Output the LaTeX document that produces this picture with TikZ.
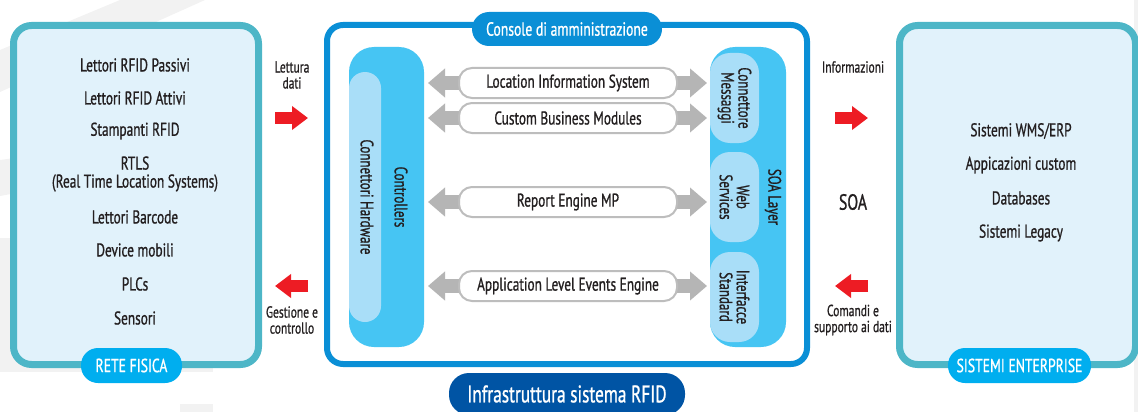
\documentclass[tikz,border=0pt]{standalone}
\usepackage{fontspec}
\setmainfont{PT Sans}[FakeStretch=0.72,FakeBold=0.9]
\usetikzlibrary{arrows.meta}
\definecolor{txt}{HTML}{231F20}
\definecolor{teal}{HTML}{4DB6C7}
\definecolor{lightfill}{HTML}{E1F2FB}
\definecolor{cyanpill}{HTML}{00AEEF}
\definecolor{midblue}{HTML}{0A8FD6}
\definecolor{darkblue}{HTML}{0054A4}
\definecolor{colfill}{HTML}{46C5F3}
\definecolor{innerfill}{HTML}{A9DEF8}
\definecolor{arrgray}{HTML}{B5B5B5}
\definecolor{labgray}{HTML}{BDBDBD}
\definecolor{redarr}{HTML}{ED1C24}
\definecolor{bggray}{HTML}{F2F2F2}
\begin{document}
\begin{tikzpicture}[x=1pt,y=-1pt,
  every node/.style={text=txt, inner sep=0pt, outer sep=0pt},
  outbox/.style={draw=teal, line width=7pt, fill=lightfill, rounded corners=18pt},
  pill/.style={fill=cyanpill, rounded corners=17pt, text=white, font=\fontsize{19}{21}\selectfont},
  itemtxt/.style={font=\fontsize{18.5}{18}\selectfont, align=center},
  rottxt/.style={font=\fontsize{18}{17}\selectfont, align=center, rotate=-90},
  smalltxt/.style={font=\fontsize{16}{16}\selectfont, align=center},
  column/.style={fill=colfill, rounded corners=25pt},
  innerpill/.style={fill=innerfill, rounded corners=20pt},
  labbox/.style={draw=labgray, line width=2pt, fill=white, rounded corners=13pt, minimum width=218pt, minimum height=30pt, font=\fontsize{18.5}{20}\selectfont},
  grayarrow/.style={draw=arrgray, line width=14pt, {Triangle[length=17pt,width=28pt]}-{Triangle[length=17pt,width=28pt]}},
  redarrow/.style={draw=redarr, line width=12pt, -{Triangle[length=16pt,width=23pt]}}
]
\useasboundingbox (0,0) rectangle (1138,412);
% faint background watermark
\fill[bggray] (120,0) -- (205,0) -- (0,92) -- (0,50) -- cycle;
\fill[bggray] (0,160) -- (22,157) -- (22,192) -- (0,196) -- cycle;
\fill[bggray] (0,238) rectangle (213,372);
\fill[bggray] (180,404) rectangle (213,412);
\fill[bggray] (1134,0) rectangle (1138,412);

% left box
\node[outbox, minimum width=245pt, minimum height=339pt] (rete) at (136,195) {};
\node[pill, minimum width=101pt, minimum height=35pt] (retepill) at (131.5,365.5) {RETE FISICA};
\node[itemtxt] (l1) at (135,65) {Lettori RFID Passivi};
\node[itemtxt] (l2) at (135,98) {Lettori RFID Attivi};
\node[itemtxt] (l3) at (135,131) {Stampanti RFID};
\node[itemtxt] (l4) at (135,174) {RTLS\\(Real Time Location Systems)};
\node[itemtxt] (l5) at (135,217) {Lettori Barcode};
\node[itemtxt] (l6) at (135,250) {Device mobili};
\node[itemtxt] (l7) at (135,284) {PLCs};
\node[itemtxt] (l8) at (135,318) {Sensori};

% right box
\node[outbox, minimum width=236pt, minimum height=339pt] (ent) at (1017.5,195) {};
\node[pill, minimum width=143pt, minimum height=35pt] (entpill) at (1019.5,365.5) {SISTEMI ENTERPRISE};
\node[itemtxt] (r1) at (1021,131) {Sistemi WMS/ERP};
\node[itemtxt] (r2) at (1021,165) {Appicazioni custom};
\node[itemtxt] (r3) at (1021,198) {Databases};
\node[itemtxt] (r4) at (1021,233) {Sistemi Legacy};

% middle box
\node[draw=midblue, line width=6pt, fill=white, rounded corners=16pt, minimum width=480pt, minimum height=339pt] (infra) at (567,194.5) {};
\node[fill=midblue, rounded corners=17pt, text=white, minimum width=190pt, minimum height=34pt, font=\fontsize{19}{21}\selectfont] (console) at (567,29) {Console di amministrazione};
\node[fill=darkblue, rounded corners=20pt, text=white, minimum width=236pt, minimum height=42pt, font=\fontsize{24}{26}\selectfont] (infrapill) at (567,394) {Infrastruttura sistema RFID};

% controllers column
\node[column, minimum width=75pt, minimum height=300pt] (ctrl) at (386.5,197) {};
\node[innerpill, rounded corners=16pt, minimum width=32pt, minimum height=250pt] (hw) at (365,197) {};
\node[rottxt] (hwt) at (367,197) {Connettori Hardware};
\node[rottxt] (ctrlt) at (401,197) {Controllers};

% SOA column
\node[column, minimum width=76pt, minimum height=300pt] (soa) at (748,197) {};
\node[innerpill, minimum width=49pt, minimum height=90pt] (msg) at (734.5,98) {};
\node[innerpill, minimum width=49pt, minimum height=90pt] (ws) at (734.5,197) {};
\node[innerpill, minimum width=49pt, minimum height=90pt] (std) at (734.5,297) {};
\node[rottxt] at (msg.center) {Connettore\\Messaggi};
\node[rottxt] at (ws.center) {Web\\Services};
\node[rottxt] at (std.center) {Interfacce\\Standard};
\node[rottxt] (soat) at (773,197) {SOA Layer};

% gray bidirectional arrows and labels
\foreach \n/\yy in {a/83, b/118, c/202, d/286} {
  \coordinate (la\n) at (ctrl.east |- 0,\yy);
  \coordinate (ra\n) at (soa.west |- 0,\yy);
  \draw[grayarrow, shorten <=4pt, shorten >=3pt] (la\n) -- (ra\n);
}
\node[labbox] (lis) at (568,83) {Location Information System};
\node[labbox] (cbm) at (568,118) {Custom Business Modules};
\node[labbox] (rep) at (568,202) {Report Engine MP};
\node[labbox] (ale) at (568,286) {Application Level Events Engine};

% left red arrows
\node[smalltxt] (lett) at (292,75) {Lettura\\dati};
\node[smalltxt] (gest) at (292,320) {Gestione e\\controllo};
\coordinate (lr1) at (275,118); \coordinate (lr2) at (308,118);
\coordinate (ll1) at (308,286); \coordinate (ll2) at (275,286);
\draw[redarrow] (lr1) -- (lr2);
\draw[redarrow] (ll1) -- (ll2);

% right red arrows
\node[smalltxt] (info) at (853,67) {Informazioni};
\node[font=\fontsize{22}{24}\selectfont] (soalab) at (853,202) {SOA};
\node[smalltxt] (cmd) at (853,320) {Comandi e\\supporto ai dati};
\coordinate (rr1) at (835,118); \coordinate (rr2) at (868,118);
\coordinate (rl1) at (868,286); \coordinate (rl2) at (835,286);
\draw[redarrow] (rr1) -- (rr2);
\draw[redarrow] (rl1) -- (rl2);
\end{tikzpicture}
\end{document}
